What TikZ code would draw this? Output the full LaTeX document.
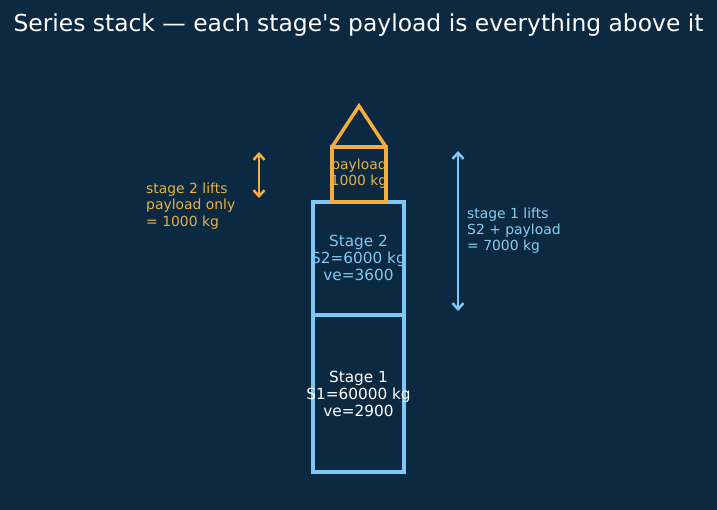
\documentclass[tikz,border=0pt]{standalone}
\usepackage{fontspec}
\setmainfont{DejaVu Sans}
\usetikzlibrary{arrows.meta}
\definecolor{bg}{RGB}{12,41,66}
\definecolor{orng}{RGB}{245,173,62}
\definecolor{lblue}{RGB}{126,200,246}
\definecolor{lbltext}{RGB}{135,205,240}
\definecolor{orngtext}{RGB}{232,176,72}
\tikzset{
  stagebox/.style={draw=lblue, line width=3.5pt},
  paybox/.style={draw=orng, line width=3.5pt},
  txt/.style={inner sep=0pt, align=center},
  ltxt/.style={inner sep=0pt, align=left, anchor=west},
  dblarrow/.style={line width=2.5pt, {Straight Barb[length=6pt,width=11pt]}-{Straight Barb[length=6pt,width=11pt]}},
}
\begin{document}
\begin{tikzpicture}[x=1pt,y=-1pt]
\fill[bg] (0,0) rectangle (717,510);
\useasboundingbox (0,0) rectangle (717,510);
\node[txt, text=white, font=\fontsize{23.4}{28}\selectfont] (title) at (358.5,25) {Series stack — each stage\textquotesingle s payload is everything above it};
% boxes
\draw[stagebox] (313,315) rectangle (404,472);
\draw[stagebox] (313,202) rectangle (404,315);
\draw[paybox] (332,147) rectangle (386,202);
\draw[paybox, line join=miter] (332,147) -- (359,106) -- (386,147);
% texts
\node[txt, text=white, font=\fontsize{15.3}{17}\selectfont] (t1) at (358.5,394) {Stage 1\\S1=60000 kg\\ve=2900};
\node[txt, text=lblue, font=\fontsize{15.3}{17}\selectfont] (t2) at (358.5,258) {Stage 2\\S2=6000 kg\\ve=3600};
\node[txt, text=orngtext, font=\fontsize{13.9}{16}\selectfont] (tp) at (359,174) {payload\\1000 kg};
\node[ltxt, text=orngtext, font=\fontsize{13.9}{16.5}\selectfont] (ll) at (146,206) {stage 2 lifts\\payload only\\= 1000 kg};
\node[ltxt, text=lbltext, font=\fontsize{13.9}{16}\selectfont] (rl) at (467,231) {stage 1 lifts\\S2 + payload\\= 7000 kg};
% arrows
\coordinate (la1) at (259,152);
\coordinate (la2) at (259,198);
\draw[dblarrow, draw=orng] (la1) -- (la2);
\coordinate (ra1) at (458,151);
\coordinate (ra2) at (458,311);
\draw[dblarrow, draw=lblue] (ra1) -- (ra2);
\end{tikzpicture}
\end{document}
